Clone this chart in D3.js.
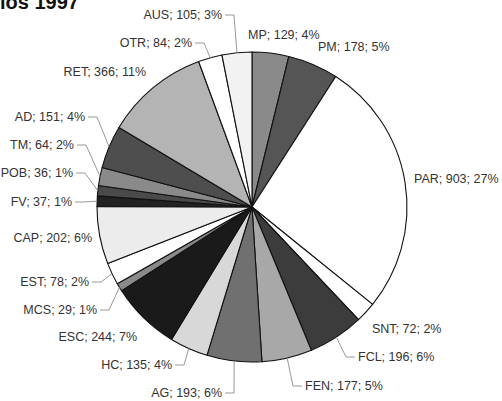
<!DOCTYPE html>
<html>
<head>
<meta charset="utf-8">
<script src="https://cdn.jsdelivr.net/npm/d3@7"></script>
<style>
  body { margin: 0; background: #fff; }
  text { font-family: "Liberation Sans", Arial, sans-serif; }
</style>
</head>
<body>
<svg id="chart" width="502" height="401"></svg>
<script>
// categories clockwise from 12 o'clock
var categories = ['MP', 'PM', 'PAR', 'SNT', 'FCL', 'FEN', 'AG', 'HC', 'ESC', 'MCS',
  'EST', 'CAP', 'FV', 'POB', 'TM', 'AD', 'RET', 'OTR', 'AUS'];
var counts = [129, 178, 903, 72, 196, 177, 193, 135, 244, 29,
  78, 202, 37, 36, 64, 151, 366, 84, 105];
var title = 'los 1997';

var shades = ['#8a8a8a', '#555555', '#ffffff', '#ffffff', '#3c3c3c', '#a8a8a8', '#707070',
  '#d8d8d8', '#1a1a1a', '#8a8a8a', '#ffffff', '#ececec', '#222222', '#4a4a4a', '#8a8a8a',
  '#4e4e4e', '#b4b4b4', '#ffffff', '#f2f2f2'];

// label layout: [x, y, anchor, leader]
var labelAt = {
  MP: [248, 35, 'start', false], PM: [318, 47, 'start', false],
  PAR: [414, 179, 'start', false], SNT: [372, 329, 'start', false],
  FCL: [358, 357, 'start', true], FEN: [305, 386, 'start', true],
  AG: [222, 393, 'end', true], HC: [172, 365, 'end', true],
  ESC: [137, 337, 'end', false], MCS: [97, 310, 'end', true],
  EST: [89, 282, 'end', true], CAP: [92, 238, 'end', false],
  FV: [72, 202, 'end', true], POB: [73, 173, 'end', true],
  TM: [74, 145, 'end', true], AD: [85, 117, 'end', true],
  RET: [146, 72, 'end', false], OTR: [192, 43, 'end', true],
  AUS: [222, 15, 'end', true]
};

var svg = d3.select('#chart');
var cx = 252, cy = 207, r = 155;
var total = d3.sum(counts);
var data = categories.map(function(c, i) { return { name: c, value: counts[i] }; });

var color = d3.scaleOrdinal().domain(categories).range(shades);
var pie = d3.pie().value(function(d) { return d.value; }).sort(null);
var arc = d3.arc().innerRadius(0).outerRadius(r);
var edge = d3.arc().innerRadius(r).outerRadius(r);
var pct = d3.format('.0%');

svg.append('text')
  .attr('x', 0)
  .attr('y', 9)
  .attr('font-size', 20)
  .attr('font-weight', 'bold')
  .attr('fill', '#111')
  .text(title);

var g = svg.append('g').attr('transform', 'translate(' + cx + ',' + cy + ')');
var arcs = pie(data);

g.selectAll('path.slice')
  .data(arcs)
  .enter()
  .append('path')
  .attr('class', 'slice')
  .attr('d', arc)
  .attr('fill', function(d) { return color(d.data.name); })
  .attr('stroke', '#111')
  .attr('stroke-width', 1.1)
  .attr('stroke-linejoin', 'round');

// leader lines
g.selectAll('path.leader')
  .data(arcs.filter(function(d) { return labelAt[d.data.name][3]; }))
  .enter()
  .append('path')
  .attr('class', 'leader')
  .attr('fill', 'none')
  .attr('stroke', '#999')
  .attr('stroke-width', 1)
  .attr('d', function(d) {
    var l = labelAt[d.data.name];
    var dir = l[2] === 'start' ? -1 : 1;
    var x0 = l[0] - cx + dir * 3, y0 = l[1] - cy;
    var x1 = x0 + dir * 9;
    var p = edge.centroid(d);
    return 'M' + x0 + ',' + y0 + 'L' + x1 + ',' + y0 + 'L' + p[0] + ',' + p[1];
  });

svg.selectAll('text.lbl')
  .data(arcs)
  .enter()
  .append('text')
  .attr('class', 'lbl')
  .attr('x', function(d) { return labelAt[d.data.name][0]; })
  .attr('y', function(d) { return labelAt[d.data.name][1]; })
  .attr('dy', '0.35em')
  .attr('text-anchor', function(d) { return labelAt[d.data.name][2]; })
  .attr('font-size', 12.5)
  .attr('fill', '#333')
  .text(function(d) {
    return d.data.name + '; ' + d.data.value + '; ' + pct(d.data.value / total);
  });
</script>
</body>
</html>
